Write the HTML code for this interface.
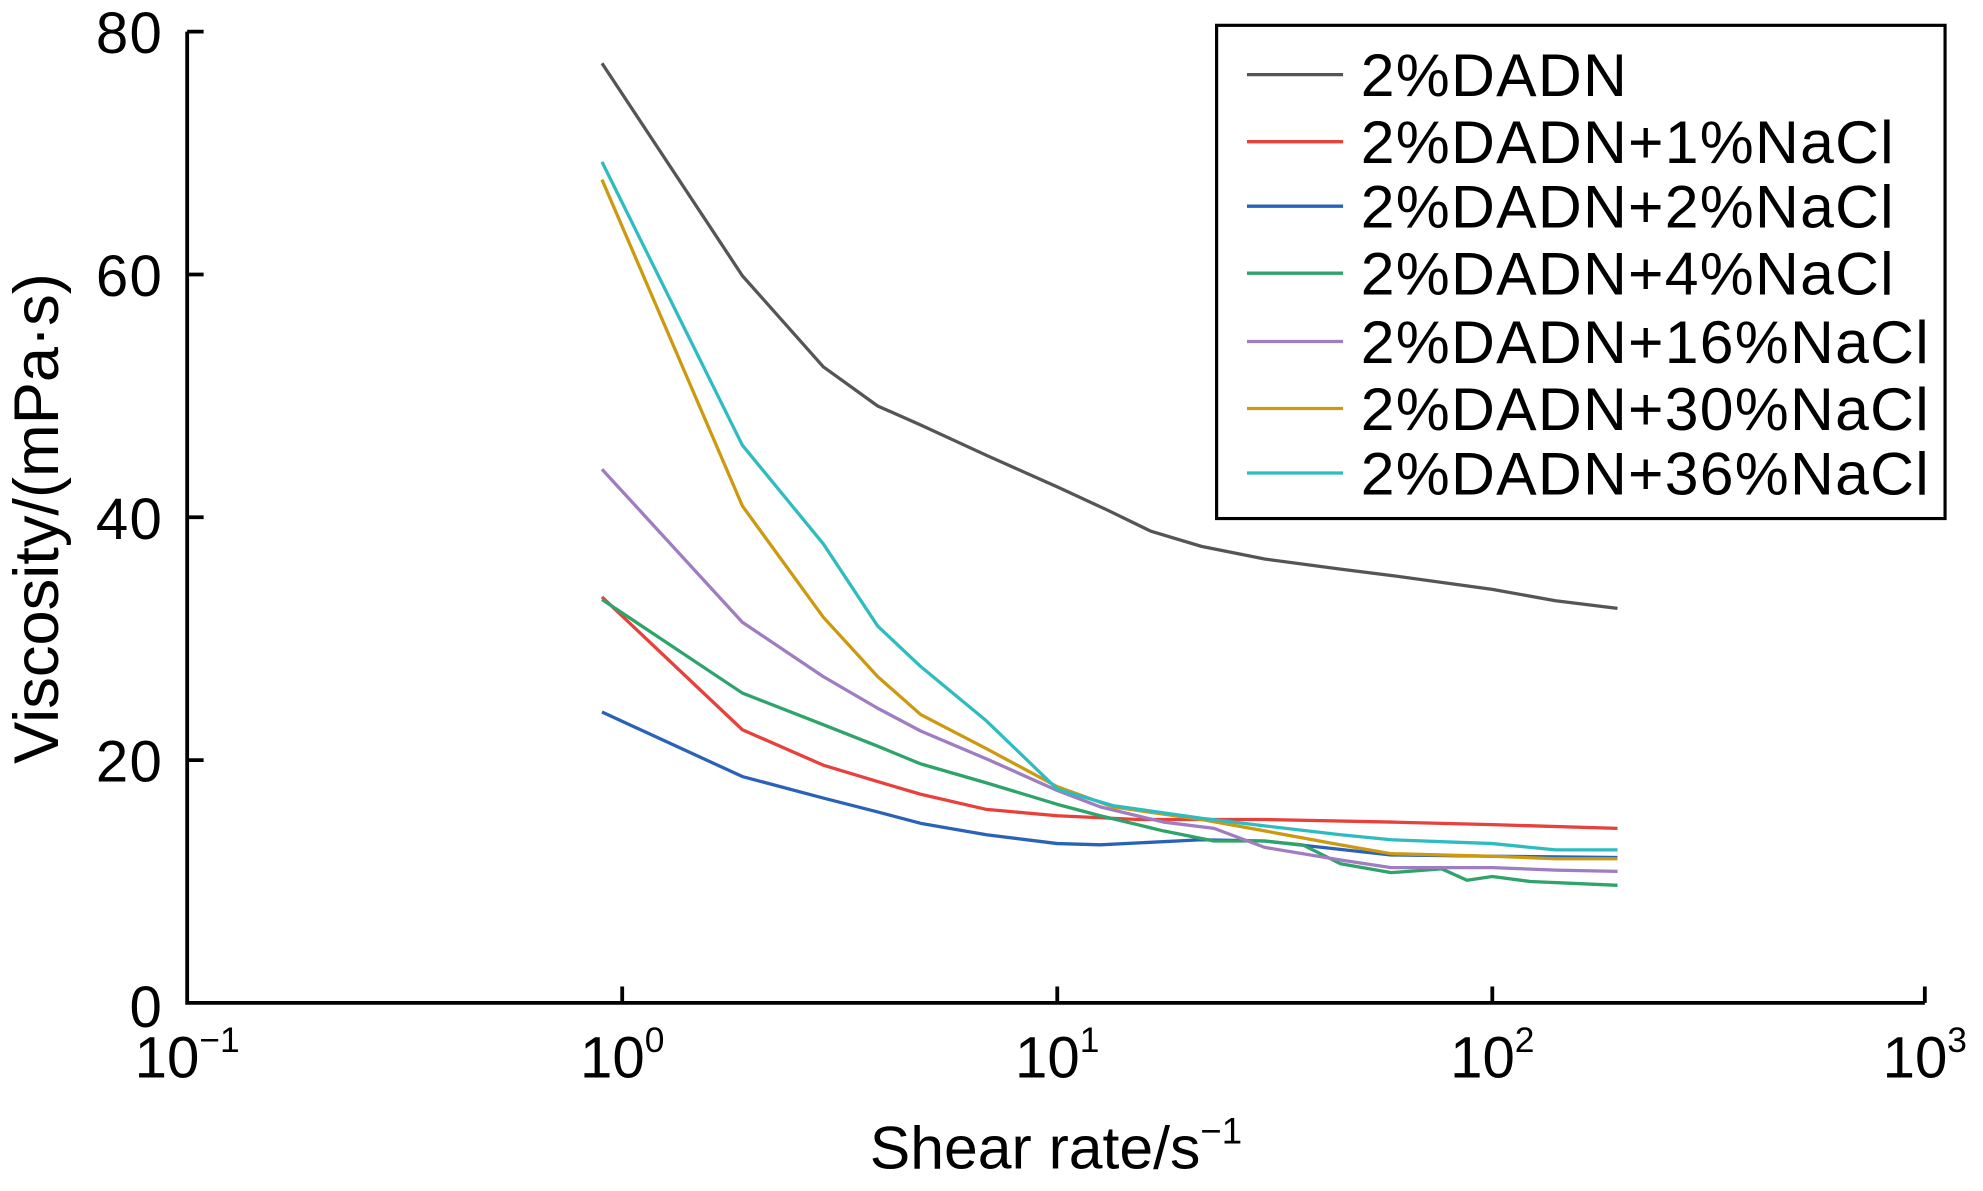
<!DOCTYPE html>
<html><head><meta charset="utf-8"><style>html,body{margin:0;padding:0;background:#fff}svg{display:block}</style></head>
<body>
<svg width="1983" height="1191" viewBox="0 0 1568 941.7" xmlns="http://www.w3.org/2000/svg" font-family="Liberation Sans, Arial, sans-serif">
<g stroke="#000" stroke-width="3" fill="none">
<path d="M148,25 V793 H1522"/>
<path d="M148,25 H161 M148,217 H161 M148,409 H161 M148,601 H161"/>
<path d="M492,793 V780 M836,793 V780 M1180,793 V780 M1522,793 V780"/>
</g>
<g font-size="46" text-anchor="end" fill="#000" letter-spacing="1">
<text x="129" y="42">80</text><text x="129" y="234">60</text><text x="129" y="426">40</text><text x="129" y="618">20</text><text x="129" y="812">0</text>
</g>
<g font-size="46" text-anchor="middle" fill="#000">
<text x="148" y="852">10<tspan font-size="28" dy="-20">−1</tspan></text>
<text x="492" y="852">10<tspan font-size="28" dy="-20">0</tspan></text>
<text x="836" y="852">10<tspan font-size="28" dy="-20">1</tspan></text>
<text x="1180" y="852">10<tspan font-size="28" dy="-20">2</tspan></text>
<text x="1522" y="852">10<tspan font-size="28" dy="-20">3</tspan></text>
</g>
<text x="835" y="924" font-size="48" text-anchor="middle">Shear rate/s<tspan font-size="29" dy="-20">−1</tspan></text>
<text transform="translate(46,410) rotate(-90)" font-size="50" text-anchor="middle">Viscosity/(mPa·s)</text>
<g fill="none" stroke-width="2.6" stroke-linejoin="round">
<polyline stroke="#555" points="476,50 587,218 651,290 694,321 728,336 780,360 836,385 875,403 910,420 950,432 1000,442 1060,450 1100,455 1180,466 1230,475 1279,481"/>
<polyline stroke="#e8403c" points="476,472 587,577 651,605 694,618 728,628 780,640 836,645 900,648 1000,648 1100,650 1180,652 1279,655"/>
<polyline stroke="#2a62b8" points="476,563 587,614 651,631 694,642 728,651 780,660 836,667 870,668 950,664 1000,665 1100,676 1180,677 1279,678"/>
<polyline stroke="#2ea36a" points="476,474 587,548 651,573 694,590 728,604 780,619 836,636 870,645 920,657 960,665 1000,665 1030,668 1060,683 1100,690 1140,687 1160,696 1180,693 1210,697 1279,700"/>
<polyline stroke="#a07cc0" points="476,371 587,492 651,535 694,560 728,578 780,600 836,625 870,638 920,650 960,655 1000,670 1060,680 1100,686 1180,686 1230,688 1279,689"/>
<polyline stroke="#cc9a10" points="476,142 587,400 651,488 694,535 728,565 780,592 836,622 880,638 950,648 1000,657 1060,668 1100,675 1180,677 1230,679 1279,679"/>
<polyline stroke="#2ebcc0" points="476,128 587,352 651,430 694,495 728,527 780,570 836,624 880,637 950,647 1000,653 1060,660 1100,664 1180,667 1230,672 1279,672"/>
</g>
<rect x="962" y="20" width="576" height="390" fill="#fff" stroke="#000" stroke-width="2.5"/>
<g stroke-width="2.6">
<line x1="986" y1="59" x2="1062" y2="59" stroke="#555"/>
<line x1="986" y1="112" x2="1062" y2="112" stroke="#e8403c"/>
<line x1="986" y1="163" x2="1062" y2="163" stroke="#2a62b8"/>
<line x1="986" y1="216" x2="1062" y2="216" stroke="#2ea36a"/>
<line x1="986" y1="270" x2="1062" y2="270" stroke="#a07cc0"/>
<line x1="986" y1="323" x2="1062" y2="323" stroke="#cc9a10"/>
<line x1="986" y1="374" x2="1062" y2="374" stroke="#2ebcc0"/>
</g>
<g font-size="48" fill="#000" letter-spacing="1">
<text x="1076" y="76">2%DADN</text>
<text x="1076" y="129">2%DADN+1%NaCl</text>
<text x="1076" y="180">2%DADN+2%NaCl</text>
<text x="1076" y="233">2%DADN+4%NaCl</text>
<text x="1076" y="287">2%DADN+16%NaCl</text>
<text x="1076" y="340">2%DADN+30%NaCl</text>
<text x="1076" y="391">2%DADN+36%NaCl</text>
</g>
</svg>
</body></html>
